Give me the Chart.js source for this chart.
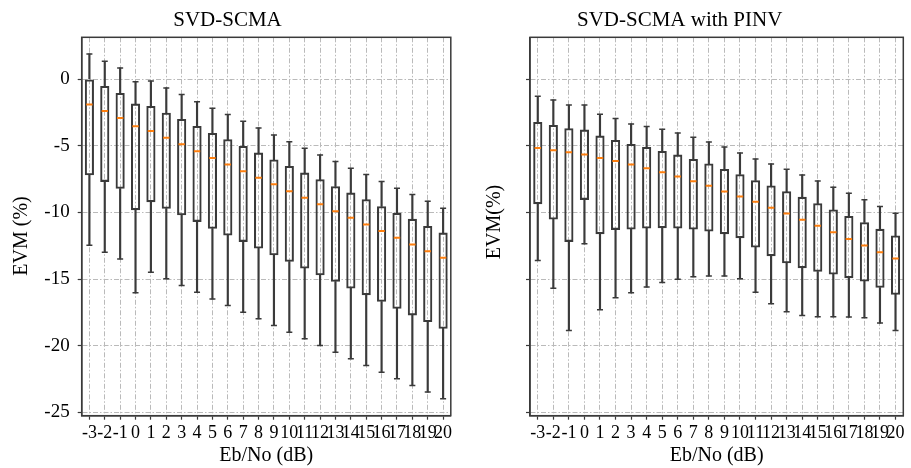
<!DOCTYPE html>
<html><head><meta charset="utf-8">
<script src="https://cdn.jsdelivr.net/npm/chart.js@4.4.1/dist/chart.umd.min.js"></script>
<style>
html,body{margin:0;padding:0;background:#fff;}
#wrap{position:relative;width:911px;height:468px;overflow:hidden;}
canvas{position:absolute;top:0;}
</style>
</head><body>
<div id="wrap">
<canvas id="c1" width="456" height="468" style="left:0;width:456px;height:468px"></canvas>
<canvas id="c2" width="455" height="468" style="left:456px;width:455px;height:468px"></canvas>
</div>
<script>
// ---- data ----
const categories = ['-3','-2','-1','0','1','2','3','4','5','6','7','8','9','10','11','12','13','14','15','16','17','18','19','20'];
const yTicks = [0, -5, -10, -15, -20, -25];
const xTitle = 'Eb/No (dB)';

// Left panel: SVD-SCMA
const leftTitle = 'SVD-SCMA';
const leftYTitle = 'EVM (%)';
const leftHigh = [1.9,1.35,0.85,-0.18,-0.13,-0.65,-1.15,-1.68,-2.18,-2.65,-3.15,-3.65,-4.18,-4.68,-5.18,-5.68,-6.18,-6.68,-7.15,-7.68,-8.18,-8.65,-9.15,-9.68];
const leftQ3   = [0,-0.53,-1.05,-1.85,-2.03,-2.53,-3.0,-3.53,-4.05,-4.53,-5.03,-5.53,-6.05,-6.53,-7.03,-7.53,-8.05,-8.53,-9.03,-9.55,-10.05,-10.5,-11.03,-11.53];
const leftMed  = [-1.9,-2.38,-2.9,-3.53,-3.88,-4.38,-4.88,-5.4,-5.9,-6.4,-6.9,-7.4,-7.88,-8.4,-8.9,-9.38,-9.9,-10.4,-10.9,-11.38,-11.9,-12.4,-12.9,-13.4];
const leftQ1   = [-7.18,-7.68,-8.2,-9.8,-9.2,-9.7,-10.18,-10.68,-11.2,-11.7,-12.18,-12.68,-13.18,-13.68,-14.18,-14.68,-15.18,-15.68,-16.18,-16.68,-17.2,-17.7,-18.2,-18.7];
const leftLow  = [-12.45,-12.98,-13.48,-16.03,-14.48,-14.98,-15.48,-15.98,-16.5,-16.98,-17.48,-17.98,-18.48,-18.98,-19.48,-19.98,-20.48,-20.98,-21.48,-21.98,-22.48,-22.98,-23.48,-23.98];

// Right panel: SVD-SCMA with PINV
const rightTitle = 'SVD-SCMA with PINV';
const rightYTitle = 'EVM(%)';
const rightHigh = [-1.28,-1.55,-1.93,-1.93,-2.63,-2.95,-3.35,-3.55,-3.75,-4.03,-4.35,-4.7,-5.08,-5.53,-5.98,-6.35,-6.75,-7.18,-7.63,-8.1,-8.55,-9.05,-9.55,-10.05];
const rightQ3   = [-3.23,-3.45,-3.7,-3.8,-4.25,-4.58,-4.88,-5.1,-5.4,-5.68,-6.0,-6.35,-6.75,-7.15,-7.6,-8.0,-8.43,-8.85,-9.33,-9.8,-10.28,-10.75,-11.25,-11.75];
const rightMed  = [-5.15,-5.33,-5.48,-5.65,-5.9,-6.13,-6.4,-6.68,-6.98,-7.3,-7.65,-8.0,-8.43,-8.8,-9.2,-9.65,-10.08,-10.55,-11.0,-11.48,-11.98,-12.48,-12.98,-13.45];
const rightQ1   = [-9.35,-10.5,-12.18,-9.03,-11.6,-11.28,-11.25,-11.18,-11.15,-11.18,-11.25,-11.4,-11.6,-11.9,-12.6,-13.25,-13.78,-14.15,-14.43,-14.63,-14.9,-15.15,-15.63,-16.15];
const rightLow  = [-13.6,-15.68,-18.86,-12.35,-17.3,-16.4,-16.03,-15.6,-15.25,-15.0,-14.83,-14.76,-14.76,-14.98,-15.98,-16.85,-17.45,-17.73,-17.83,-17.83,-17.85,-17.9,-18.3,-18.86];

// ---- styles ----
const FONT = "'Liberation Serif','Times New Roman',serif";
const DARK = '#3a3a3a';
const GRID = '#bababa';
const MEDIAN = '#ff7f0e';

const framePlugin = {
  id: 'frameAndYTitle',
  afterDraw(chart, args, opts) {
    const {ctx, chartArea: a} = chart;
    ctx.save();
    ctx.strokeStyle = DARK;
    ctx.lineWidth = 1.5;
    ctx.setLineDash([]);
    ctx.strokeRect(a.left, a.top, a.right - a.left, a.bottom - a.top);
    ctx.translate(opts.x, opts.y);
    ctx.rotate(-Math.PI / 2);
    ctx.fillStyle = '#000';
    ctx.font = '20px ' + FONT;
    ctx.textAlign = 'center';
    ctx.textBaseline = 'middle';
    ctx.fillText(opts.text, 0, 0);
    ctx.restore();
  }
};

function makeChart(id, o) {
  const whisker = (data) => ({type: 'bar', data, backgroundColor: DARK, borderWidth: 0,
    barThickness: 1.5, grouped: false, order: 3});
  const cap = (data) => ({type: 'line', data, showLine: false, pointStyle: 'line',
    pointRadius: 3, pointHoverRadius: 3, pointBorderWidth: 1.5, pointBorderColor: DARK, order: 1});
  return new Chart(document.getElementById(id), {
    type: 'bar',
    data: {
      labels: categories,
      datasets: [
        whisker(categories.map((_, i) => [o.q3[i], o.hi[i]])),
        whisker(categories.map((_, i) => [o.lo[i], o.q1[i]])),
        {type: 'bar', data: categories.map((_, i) => [o.q1[i], o.q3[i]]),
          backgroundColor: 'rgba(0,0,0,0)', borderColor: DARK, borderWidth: 1.4,
          borderSkipped: false, barThickness: 8.5, grouped: false, order: 2},
        cap(o.hi),
        cap(o.lo),
        {type: 'line', data: o.med, showLine: false, pointStyle: 'line', pointRadius: 3.2,
          pointHoverRadius: 3.2, pointBorderWidth: 2, pointBorderColor: MEDIAN, order: 0}
      ]
    },
    options: {
      responsive: false, animation: false, devicePixelRatio: 1,
      events: [],
      layout: {padding: {left: 0, right: o.padRight, top: 0, bottom: 0}},
      plugins: {
        legend: {display: false}, tooltip: {enabled: false},
        title: {display: true, text: o.title, color: '#000',
          font: {family: FONT, size: 21, weight: 'normal', lineHeight: 1.2},
          padding: {top: 8, bottom: 4.1}},
        frameAndYTitle: {x: o.yTitleX, y: o.yTitleY, text: o.yTitle}
      },
      scales: {
        x: {
          offset: true,
          grid: {offset: false, color: GRID, lineWidth: 1, tickLength: 4, tickColor: DARK, tickBorderDash: [], tickWidth: 1.2},
          border: {color: DARK, width: 1.5, dash: [5, 2, 1.5, 2]},
          ticks: {autoSkip: false, maxRotation: 0, minRotation: 0, padding: 3, color: '#000',
            font: {family: FONT, size: 18}},
          title: {display: true, text: xTitle, color: '#000',
            font: {family: FONT, size: 20, lineHeight: 1.2}, padding: {top: 0, bottom: 0}},
          afterFit(s) { s.height = 52.3; }
        },
        y: {
          min: -25.25, max: 3.15,
          afterBuildTicks(s) { s.ticks = yTicks.map(v => ({value: v})); },
          grid: {color: GRID, lineWidth: 1, tickLength: 4, tickColor: DARK, tickBorderDash: [], tickWidth: 1.2},
          border: {color: DARK, width: 1.5, dash: [5, 2, 1.5, 2]},
          ticks: {display: o.showYLabels, padding: 8, color: '#000', font: {family: FONT, size: 19}},
          afterFit(s) { s.width = o.yWidth; }
        }
      }
    },
    plugins: [framePlugin]
  });
}

makeChart('c1', {title: leftTitle, yTitle: leftYTitle, hi: leftHigh, q3: leftQ3, med: leftMed, q1: leftQ1, lo: leftLow,
  yWidth: 81.7, padRight: 1, showYLabels: true, yTitleX: 22, yTitleY: 236});
makeChart('c2', {title: rightTitle, yTitle: rightYTitle, hi: rightHigh, q3: rightQ3, med: rightMed, q1: rightQ1, lo: rightLow,
  yWidth: 74, padRight: 7.7, showYLabels: false, yTitleX: 39, yTitleY: 222});
</script>
</body></html>
